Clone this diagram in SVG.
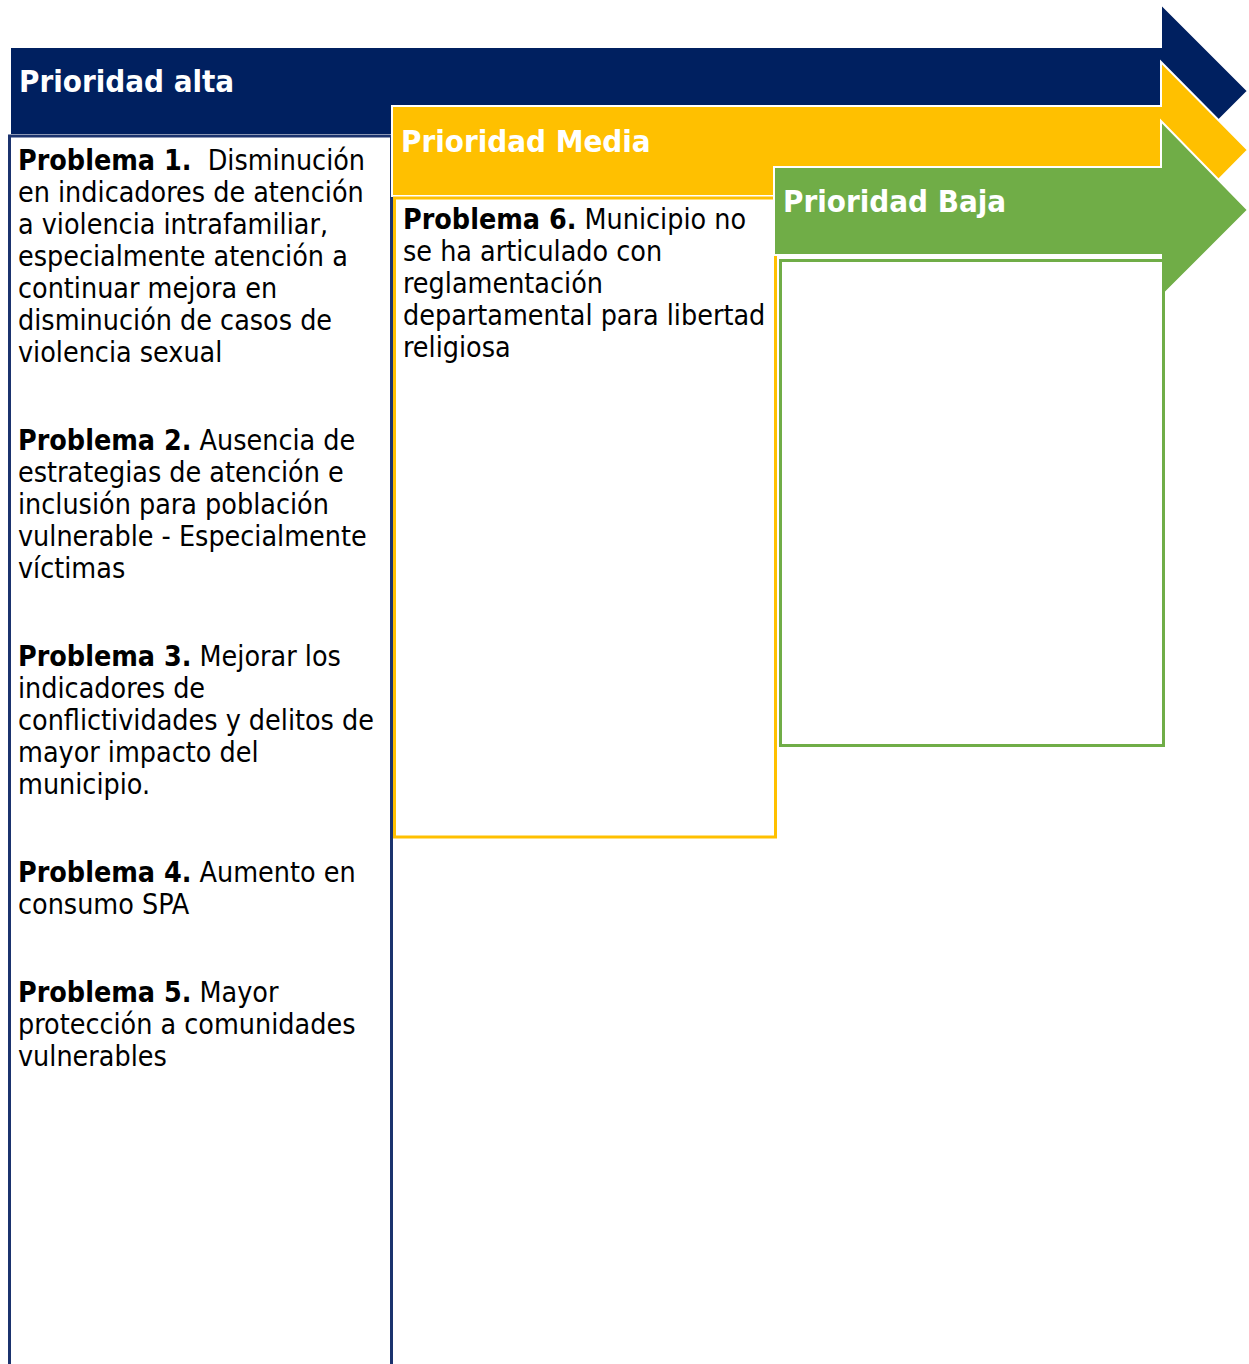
<svg xmlns="http://www.w3.org/2000/svg" width="1249" height="1364" viewBox="0 0 1249 1364">
<style>
.arrow{stroke:#fff;stroke-width:2;stroke-linejoin:miter}
.title{font-family:"DejaVu Sans Condensed","DejaVu Sans",Verdana,sans-serif;font-weight:bold;font-size:31px;fill:#fff}
.body{font-family:"DejaVu Sans Condensed","DejaVu Sans",Verdana,sans-serif;font-size:28.4px;fill:#000}
.b{font-weight:bold}
</style>
<rect width="1249" height="1364" fill="#fff"/>
<g id="alta">
  <polygon class="arrow" fill="#002060" points="10,47 1161,47 1161,4 1248,91 1161,178 1161,135 10,135"/>
  <text class="title" x="19" y="92">Prioridad alta</text>
</g>
<g id="box-alta">
  <rect x="9.5" y="136" width="382" height="1260" fill="#fff" stroke="#1B336E" stroke-width="3"/>
  <text class="body" x="18"><tspan x="18" y="170"><tspan class="b">Problema 1.</tspan>&#160; Disminución</tspan><tspan x="18" y="202">en indicadores de atención</tspan><tspan x="18" y="234">a violencia intrafamiliar,</tspan><tspan x="18" y="266">especialmente atención a</tspan><tspan x="18" y="298">continuar mejora en</tspan><tspan x="18" y="330">disminución de casos de</tspan><tspan x="18" y="362">violencia sexual</tspan></text>
  <text class="body" x="18"><tspan x="18" y="450"><tspan class="b">Problema 2.</tspan> Ausencia de</tspan><tspan x="18" y="482">estrategias de atención e</tspan><tspan x="18" y="514">inclusión para población</tspan><tspan x="18" y="546">vulnerable - Especialmente</tspan><tspan x="18" y="578">víctimas</tspan></text>
  <text class="body" x="18"><tspan x="18" y="666"><tspan class="b">Problema 3.</tspan> Mejorar los</tspan><tspan x="18" y="698">indicadores de</tspan><tspan x="18" y="730">conflictividades y delitos de</tspan><tspan x="18" y="762">mayor impacto del</tspan><tspan x="18" y="794">municipio.</tspan></text>
  <text class="body" x="18"><tspan x="18" y="882"><tspan class="b">Problema 4.</tspan> Aumento en</tspan><tspan x="18" y="914">consumo SPA</tspan></text>
  <text class="body" x="18"><tspan x="18" y="1002"><tspan class="b">Problema 5.</tspan> Mayor</tspan><tspan x="18" y="1034">protección a comunidades</tspan><tspan x="18" y="1066">vulnerables</tspan></text>
</g>
<g id="media">
  <polygon class="arrow" fill="#FFC000" points="392,106 1161,106 1161,62 1248,150 1161,238 1161,196 392,196"/>
  <text class="title" x="401" y="152">Prioridad Media</text>
</g>
<g id="box-media">
  <rect x="394.5" y="198" width="381" height="639" fill="#fff" stroke="#FFC000" stroke-width="3"/>
  <text class="body" x="403"><tspan x="403" y="229"><tspan class="b">Problema 6.</tspan> Municipio no</tspan><tspan x="403" y="261">se ha articulado con</tspan><tspan x="403" y="293">reglamentación</tspan><tspan x="403" y="325">departamental para libertad</tspan><tspan x="403" y="357">religiosa</tspan></text>
</g>
<g id="baja">
  <polygon class="arrow" fill="#70AD47" points="774,167 1161,167 1161,121 1248,210 1161,297 1161,255 774,255"/>
  <text class="title" x="783" y="212">Prioridad Baja</text>
</g>
<g id="box-baja">
  <rect x="780.5" y="260.5" width="383" height="485" fill="#fff" stroke="#70AD47" stroke-width="3"/>
</g>
</svg>
